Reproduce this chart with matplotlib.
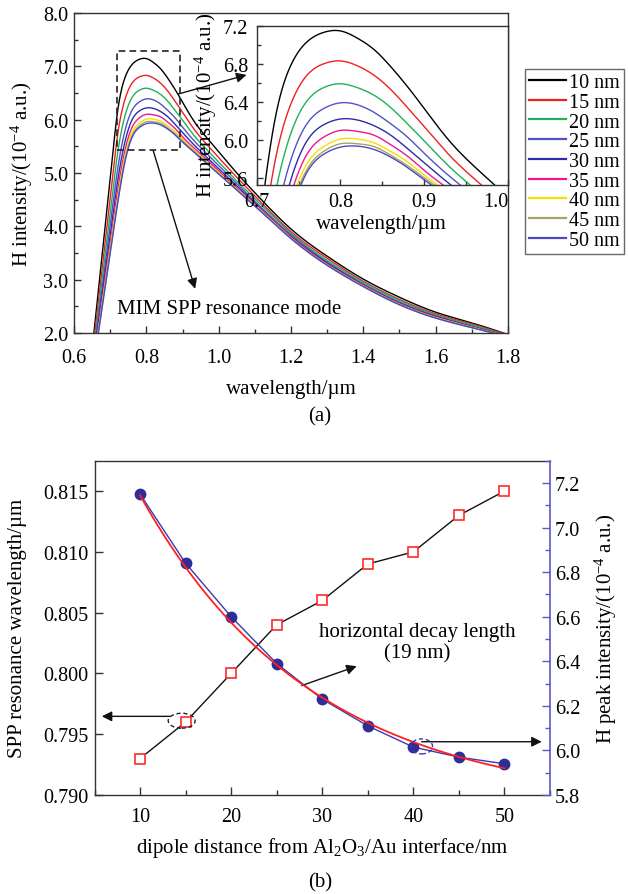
import numpy as np
import matplotlib
matplotlib.use("Agg")
import matplotlib.pyplot as plt
from matplotlib.patches import Rectangle, Ellipse
from matplotlib.lines import Line2D
from matplotlib.ticker import MultipleLocator, FixedLocator, FormatStrFormatter

plt.rcParams['font.family'] = ['Liberation Serif', 'DejaVu Serif']
plt.rcParams['mathtext.fontset'] = 'custom'
plt.rcParams['mathtext.rm'] = 'Liberation Serif'
plt.rcParams['mathtext.it'] = 'Liberation Serif:italic'
plt.rcParams['mathtext.bf'] = 'Liberation Serif:bold'

# ---------------- data ----------------
distances = [10, 15, 20, 25, 30, 35, 40, 45, 50]          # dipole distance / nm
series_labels = ['10 nm', '15 nm', '20 nm', '25 nm', '30 nm',
                 '35 nm', '40 nm', '45 nm', '50 nm']

# H-field spectra (10^-4 a.u.) sampled on a common wavelength grid (um)
wavelength = [0.65, 0.66, 0.68, 0.70, 0.72, 0.74, 0.76, 0.78, 0.80, 0.82, 0.84,
              0.86, 0.88, 0.90, 0.93, 0.96, 1.00, 1.05, 1.10, 1.20, 1.30, 1.40,
              1.50, 1.60, 1.70, 1.80]
h_10nm = [1.68, 2.32, 3.60, 4.88, 6.13, 6.77, 7.03, 7.13, 7.145, 7.07, 6.95, 6.77, 6.56,
          6.33, 5.99, 5.72, 5.40, 5.00, 4.63, 3.95, 3.44, 3.01, 2.67, 2.39, 2.19, 1.97]
h_15nm = [1.56, 2.15, 3.34, 4.53, 5.69, 6.36, 6.68, 6.80, 6.83, 6.78, 6.68, 6.53, 6.34,
          6.14, 5.84, 5.59, 5.29, 4.92, 4.57, 3.90, 3.40, 2.97, 2.63, 2.36, 2.17, 1.96]
h_20nm = [1.46, 2.02, 3.14, 4.25, 5.34, 6.05, 6.41, 6.55, 6.59, 6.55, 6.47, 6.34, 6.17,
          5.99, 5.72, 5.49, 5.21, 4.85, 4.52, 3.87, 3.36, 2.95, 2.61, 2.34, 2.15, 1.95]
h_25nm = [1.38, 1.91, 2.96, 4.01, 5.04, 5.77, 6.17, 6.33, 6.39, 6.37, 6.29, 6.17, 6.03,
          5.86, 5.62, 5.41, 5.14, 4.80, 4.47, 3.84, 3.33, 2.92, 2.58, 2.32, 2.13, 1.94]
h_30nm = [1.32, 1.82, 2.83, 3.83, 4.82, 5.56, 5.99, 6.16, 6.22, 6.21, 6.15, 6.05, 5.91,
          5.76, 5.54, 5.34, 5.08, 4.76, 4.44, 3.81, 3.31, 2.90, 2.56, 2.31, 2.12, 1.94]
h_35nm = [1.27, 1.75, 2.72, 3.69, 4.64, 5.40, 5.85, 6.03, 6.10, 6.09, 6.05, 5.95, 5.83,
          5.68, 5.48, 5.29, 5.04, 4.72, 4.42, 3.80, 3.29, 2.89, 2.55, 2.30, 2.11, 1.94]
h_40nm = [1.23, 1.70, 2.65, 3.59, 4.51, 5.29, 5.75, 5.93, 6.01, 6.01, 5.97, 5.88, 5.77,
          5.63, 5.44, 5.25, 5.01, 4.70, 4.40, 3.78, 3.28, 2.88, 2.54, 2.29, 2.11, 1.93]
h_45nm = [1.21, 1.68, 2.61, 3.53, 4.44, 5.22, 5.69, 5.88, 5.96, 5.96, 5.93, 5.84, 5.73,
          5.60, 5.42, 5.23, 4.99, 4.69, 4.39, 3.77, 3.27, 2.87, 2.53, 2.28, 2.10, 1.93]
h_50nm = [1.20, 1.66, 2.58, 3.50, 4.40, 5.18, 5.66, 5.85, 5.925, 5.935, 5.90, 5.82, 5.71,
          5.58, 5.40, 5.22, 4.98, 4.68, 4.38, 3.77, 3.27, 2.87, 2.53, 2.28, 2.10, 1.93]

# resonance peak position (um) and peak intensity (10^-4 a.u.) versus distance
resonance_wavelength = [0.793, 0.796, 0.800, 0.804, 0.806, 0.809, 0.810, 0.813, 0.815]
peak_intensity = [7.15, 6.84, 6.60, 6.39, 6.23, 6.11, 6.015, 5.97, 5.94]

# exponential fit of the peak intensity: I = offset + amplitude * exp(-d / decay_length)
decay_length = 19.0
fit_offset = 5.750
fit_amplitude = 2.361

spectra = [h_10nm, h_15nm, h_20nm, h_25nm, h_30nm, h_35nm, h_40nm, h_45nm, h_50nm]
line_colors = ['#000000', '#f02020', '#1db25a', '#5252c2', '#2c2caa',
               '#f0168c', '#f2e000', '#a8a262', '#4a4ac2']


def natural_spline(x, y, n=1500):
    """Smooth curve through the sampled points (natural cubic spline)."""
    x = np.asarray(x, float)
    y = np.asarray(y, float)
    m = len(x)
    h = np.diff(x)
    A = np.zeros((m, m))
    r = np.zeros(m)
    A[0, 0] = A[-1, -1] = 1.0
    for i in range(1, m - 1):
        A[i, i - 1] = h[i - 1]
        A[i, i] = 2 * (h[i - 1] + h[i])
        A[i, i + 1] = h[i]
        r[i] = 6 * ((y[i + 1] - y[i]) / h[i] - (y[i] - y[i - 1]) / h[i - 1])
    M = np.linalg.solve(A, r)
    xs = np.linspace(x[0], x[-1], n)
    k = np.clip(np.searchsorted(x, xs) - 1, 0, m - 2)
    hk = h[k]
    a = x[k + 1] - xs
    b = xs - x[k]
    ys = (M[k] * a ** 3 + M[k + 1] * b ** 3) / (6 * hk) \
        + (y[k] / hk - M[k] * hk / 6) * a + (y[k + 1] / hk - M[k + 1] * hk / 6) * b
    return xs, ys


# ---------------- layout ----------------
W, H = 628, 895
fig = plt.figure(figsize=(W / 100, H / 100), dpi=100)


def px_axes(left, top, right, bottom, **kw):
    return fig.add_axes([left / W, 1 - bottom / H, (right - left) / W, (bottom - top) / H], **kw)


ax_a = px_axes(74, 14, 508, 334)
ax_in = px_axes(256.7, 26.7, 508, 185.7)
ax_b = px_axes(94.5, 461.7, 550, 796)
ax_r = ax_b.twinx()

TICK_FS = 14.5
LABEL_FS = 15
SPINE = '#333333'
for ax in (ax_a, ax_in, ax_b, ax_r):
    for sp in ax.spines.values():
        sp.set_linewidth(1.0)
        sp.set_color(SPINE)

# ---------------- panel (a) ----------------
for vals, col, lab in zip(spectra, line_colors, series_labels):
    xs, ys = natural_spline(wavelength, vals)
    ax_a.plot(xs, ys, color=col, lw=1.0, label=lab)
    ax_in.plot(xs, ys, color=col, lw=1.0)

ax_a.set_xlim(0.6, 1.8)
ax_a.set_ylim(2.0, 8.0)
ax_a.xaxis.set_major_locator(MultipleLocator(0.2))
ax_a.xaxis.set_minor_locator(MultipleLocator(0.1))
ax_a.yaxis.set_major_locator(MultipleLocator(1.0))
ax_a.yaxis.set_minor_locator(MultipleLocator(0.5))
ax_a.xaxis.set_major_formatter(FormatStrFormatter('%.1f'))
ax_a.yaxis.set_major_formatter(FormatStrFormatter('%.1f'))
ax_a.tick_params(which='both', direction='in', top=False, right=False,
                 labelsize=TICK_FS, width=1.0, color=SPINE)
ax_a.tick_params(which='major', length=5)
ax_a.tick_params(which='minor', length=3)
ax_a.tick_params(axis='x', pad=11)
ax_a.tick_params(axis='y', pad=4)

ax_a.set_xlabel('wavelength/\u00b5m', fontsize=LABEL_FS, va='center')
ax_a.xaxis.set_label_coords(0.5, -0.175)
ax_a.set_ylabel('H intensity/(10$^{-4}$ a.u.)', fontsize=LABEL_FS, va='center')
ax_a.yaxis.set_label_coords(-0.1205, 0.5)

# zoom window and annotations
ax_a.add_patch(Rectangle((0.72, 5.44), 0.173, 1.85, fill=False,
                         ls=(0, (4, 2.5)), lw=1.2, ec='#222222', zorder=5))
arrow_kw = dict(arrowstyle='-|>', color='#111111', lw=1.0, mutation_scale=15,
                shrinkA=0, shrinkB=0)
ax_a.annotate('', xy=(1.077, 6.84), xytext=(0.888, 6.48), arrowprops=arrow_kw)
ax_a.annotate('', xy=(0.935, 2.83), xytext=(0.819, 5.42), arrowprops=arrow_kw)
ax_a.text(0.718, 2.45, 'MIM SPP resonance mode', fontsize=LABEL_FS,
          ha='left', va='center')

# inset
ax_in.set_facecolor('white')
ax_in.set_xlim(0.7, 1.0)
ax_in.set_ylim(5.53, 7.2)
ax_in.xaxis.set_major_locator(FixedLocator([0.7, 0.8, 0.9, 1.0]))
ax_in.xaxis.set_minor_locator(FixedLocator([0.75, 0.85, 0.95]))
ax_in.yaxis.set_major_locator(FixedLocator([5.6, 6.0, 6.4, 6.8, 7.2]))
ax_in.yaxis.set_minor_locator(FixedLocator([5.8, 6.2, 6.6, 7.0]))
ax_in.xaxis.set_major_formatter(FormatStrFormatter('%.1f'))
ax_in.yaxis.set_major_formatter(FormatStrFormatter('%.1f'))
ax_in.tick_params(which='both', direction='in', top=False, right=False,
                  labelsize=TICK_FS, width=1.0, color=SPINE)
ax_in.tick_params(which='major', length=4)
ax_in.tick_params(which='minor', length=3)
ax_in.tick_params(axis='x', pad=5)
ax_in.tick_params(axis='y', pad=6)
ax_in.set_xlabel('wavelength/\u00b5m', fontsize=LABEL_FS, va='center')
ax_in.xaxis.set_label_coords(0.495, -0.247)
ax_in.set_ylabel('H intensity/(10$^{-4}$ a.u.)', fontsize=LABEL_FS, va='center')
ax_in.yaxis.set_label_coords(-0.203, 0.508)
ax_in.get_xticklabels()[-1].set_ha('right')

# legend
handles = [Line2D([], [], color=c, lw=1.6) for c in line_colors]
leg = fig.legend(handles, series_labels, loc='upper left',
                 bbox_to_anchor=(525 / W, 1 - 70 / H), frameon=True, fancybox=False,
                 edgecolor='#444444', fontsize=14.5, handlelength=1.84,
                 handletextpad=0.15, borderpad=0.2, labelspacing=0.03,
                 borderaxespad=0.0)
leg.get_frame().set_linewidth(1.0)

fig.text(320 / W, 1 - 417 / H, '(a)', fontsize=LABEL_FS, ha='center', va='center')

# ---------------- panel (b) ----------------
ax_b.plot(distances, resonance_wavelength, color='#111111', lw=1.0, zorder=2)
ax_b.plot(distances, resonance_wavelength, 's', ms=7, mfc='white', mec='#ff2a2a',
          mew=1.2, zorder=3)

ax_r.plot(distances, peak_intensity, color='#3a3ab4', lw=1.0, zorder=2)
ax_r.plot(distances, peak_intensity, 'o', ms=7.5, color='#2e2e98', zorder=3)
d_fit = np.linspace(distances[0], distances[-1], 300)
ax_r.plot(d_fit, fit_offset + fit_amplitude * np.exp(-d_fit / decay_length),
          color='#ff2020', lw=1.3, zorder=4)

ax_b.set_xlim(5, 55)
ax_b.set_ylim(0.790, 0.8175)
ax_r.set_ylim(5.8, 7.3)
ax_b.xaxis.set_major_locator(MultipleLocator(10))
ax_b.xaxis.set_minor_locator(MultipleLocator(5))
ax_b.yaxis.set_major_locator(MultipleLocator(0.005))
ax_b.yaxis.set_major_formatter(FormatStrFormatter('%.3f'))
ax_r.yaxis.set_major_locator(MultipleLocator(0.2))
ax_r.yaxis.set_minor_locator(MultipleLocator(0.1))
ax_r.yaxis.set_major_formatter(FormatStrFormatter('%.1f'))

ax_b.tick_params(which='both', direction='in', top=False, right=False,
                 labelsize=TICK_FS, width=1.0, color=SPINE)
ax_b.tick_params(which='major', length=6)
ax_b.tick_params(which='minor', length=3.5)
ax_b.tick_params(axis='x', pad=8.5)
ax_b.tick_params(axis='y', pad=4.5)

RIGHT_COL = '#5a5ac8'
ax_b.spines['right'].set_visible(False)
for side in ('left', 'top', 'bottom'):
    ax_r.spines[side].set_visible(False)
ax_r.spines['right'].set_color(RIGHT_COL)
ax_r.spines['right'].set_linewidth(1.2)
ax_r.tick_params(which='both', direction='in', labelsize=TICK_FS, width=1.0,
                 color=RIGHT_COL, pad=3.6)
ax_r.tick_params(which='major', length=6)
ax_r.tick_params(which='minor', length=3.5)

ax_b.set_xlabel('dipole distance from Al$_2$O$_3$/Au interface/nm',
                fontsize=LABEL_FS, va='center')
ax_b.xaxis.set_label_coords(0.4994, -0.1556)
ax_b.set_ylabel('SPP resonance wavelength/\u00b5m', fontsize=LABEL_FS, va='center')
ax_b.yaxis.set_label_coords(-0.168, 0.5)
ax_r.set_ylabel('H peak intensity/(10$^{-4}$ a.u.)', fontsize=LABEL_FS, va='center',
                rotation=90)
ax_r.yaxis.set_label_coords(1.123, 0.5)

# pointers to the axis that each series belongs to
ax_b.add_patch(Ellipse((14.57, 0.79611), 2.96, 0.00123, fill=False,
                       ls=(0, (3, 2)), lw=1.0, ec='#222222', zorder=5))
ax_b.annotate('', xy=(5.8, 0.79647), xytext=(13.3, 0.79647), arrowprops=arrow_kw)
ax_r.add_patch(Ellipse((40.92, 6.018), 2.38, 0.0674, fill=False,
                       ls=(0, (3, 2)), lw=1.0, ec='#3a3ab4', zorder=5))
ax_r.annotate('', xy=(54.09, 6.039), xytext=(40.92, 6.039), arrowprops=arrow_kw)
ax_r.annotate('', xy=(33.78, 6.378), xytext=(27.75, 6.291), arrowprops=arrow_kw)
ax_b.text(40.4, 0.80257, 'horizontal decay length\n(%d nm)' % decay_length,
          fontsize=LABEL_FS, ha='center', va='center', multialignment='center',
          linespacing=1.15)

fig.text(320 / W, 1 - 883 / H, '(b)', fontsize=LABEL_FS, ha='center', va='center')

fig.savefig('out.png', dpi=100)
